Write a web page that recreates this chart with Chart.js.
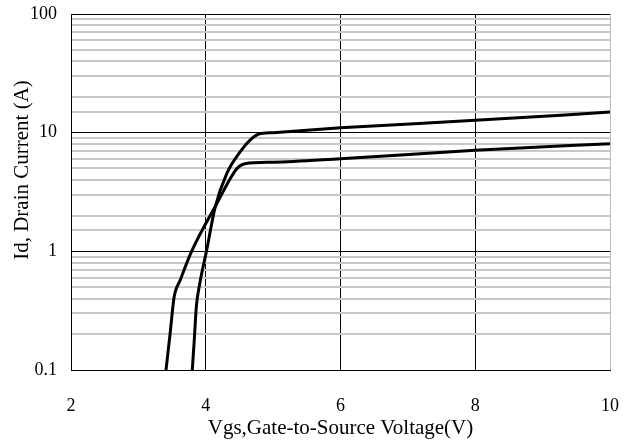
<!DOCTYPE html>
<html>
<head>
<meta charset="utf-8">
<script src="https://cdn.jsdelivr.net/npm/chart.js@4.4.0/dist/chart.umd.min.js"></script>
<style>
  html, body { margin: 0; padding: 0; background: #fff; }
  #wrap { width: 635px; height: 441px; }
</style>
</head>
<body>
<div id="wrap"><canvas id="idVgsChart" width="635" height="441"></canvas></div>
<script>
// Curva de transferencia Id vs Vgs (dos curvas)
const vgsA = [3.80, 3.83, 3.86, 3.91, 4.01, 4.14, 4.31, 4.51, 4.68, 4.78, 5.0, 6, 8, 10];
const idA  = [0.1, 0.18, 0.34, 0.53, 1.0, 2.36, 4.5, 6.9, 8.9, 9.7, 10.0, 11.0, 12.7, 14.9];

const vgsB = [3.41, 3.47, 3.53, 3.62, 3.79, 4.16, 4.46, 4.58, 5, 6, 8, 10];
const idB  = [0.1, 0.2, 0.41, 0.57, 1.0, 2.5, 4.97, 5.48, 5.64, 6.04, 7.1, 8.08];

const xTicks = [2, 4, 6, 8, 10];
const yTickLabels = [0.1, 1, 10, 100];

const FONT = '"Liberation Serif", "DejaVu Serif", serif';

function toPoints(xs, ys) {
    return xs.map(function(x, i) { return { x: x, y: ys[i] }; });
}

function isDecade(v) {
    const l = Math.log10(v);
    return Math.abs(l - Math.round(l)) < 1e-6;
}

// Título del eje Y dibujado a mano (está desplazado hacia arriba en el original)
const yTitlePlugin = {
    id: 'yTitle',
    afterDraw: function(chart) {
        const ctx = chart.ctx;
        ctx.save();
        ctx.translate(22, 170);
        ctx.rotate(-Math.PI / 2);
        ctx.font = '21px ' + FONT;
        ctx.fillStyle = '#000';
        ctx.textAlign = 'center';
        ctx.textBaseline = 'middle';
        ctx.fillText('Id, Drain Current (A)', 0, 0);
        ctx.restore();
    }
};

const lineStyle = {
    borderColor: '#000',
    borderWidth: 3,
    pointRadius: 0,
    showLine: true,
    fill: false,
    cubicInterpolationMode: 'monotone'
};

new Chart(document.getElementById('idVgsChart').getContext('2d'), {
    type: 'scatter',
    data: {
        datasets: [
            Object.assign({ label: 'A', data: toPoints(vgsA, idA) }, lineStyle),
            Object.assign({ label: 'B', data: toPoints(vgsB, idB) }, lineStyle)
        ]
    },
    plugins: [yTitlePlugin],
    options: {
        responsive: false,
        animation: false,
        layout: { padding: { top: 14, right: 25, left: 0, bottom: 0 } },
        plugins: {
            legend: { display: false },
            tooltip: { enabled: false }
        },
        scales: {
            x: {
                type: 'linear',
                min: xTicks[0],
                max: xTicks[xTicks.length - 1],
                afterBuildTicks: function(scale) {
                    scale.ticks = xTicks.map(function(v) { return { value: v }; });
                },
                afterFit: function(scale) {
                    scale.height = 71;
                    scale.paddingLeft = 0;
                    scale.paddingRight = 0;
                },
                border: { color: '#000', width: 1 },
                grid: {
                    drawTicks: false,
                    color: function(c) {
                        return (c.tick && c.tick.value === 10) ? '#bdbdbd' : '#000';
                    },
                    lineWidth: 1
                },
                ticks: {
                    padding: 25,
                    color: '#000',
                    font: { family: FONT, size: 18 }
                },
                title: {
                    display: true,
                    text: 'Vgs,Gate-to-Source Voltage(V)',
                    color: '#000',
                    font: { family: FONT, size: 21 },
                    padding: { top: -9, bottom: 0 }
                }
            },
            y: {
                type: 'logarithmic',
                min: 0.1,
                max: 100,
                afterFit: function(scale) {
                    scale.width = 71;
                    scale.paddingTop = 0;
                    scale.paddingBottom = 0;
                },
                border: { color: '#000', width: 1 },
                grid: {
                    drawTicks: false,
                    color: function(c) {
                        return (c.tick && isDecade(c.tick.value)) ? '#000' : '#c8c8c8';
                    },
                    lineWidth: function(c) {
                        return (c.tick && isDecade(c.tick.value)) ? 1 : 2;
                    }
                },
                ticks: {
                    autoSkip: false,
                    padding: 14,
                    color: '#000',
                    font: { family: FONT, size: 18 },
                    callback: function(value) {
                        for (let i = 0; i < yTickLabels.length; i++) {
                            if (Math.abs(value - yTickLabels[i]) < 1e-9) return String(yTickLabels[i]);
                        }
                        return '';
                    }
                }
            }
        }
    }
});
</script>
</body>
</html>
